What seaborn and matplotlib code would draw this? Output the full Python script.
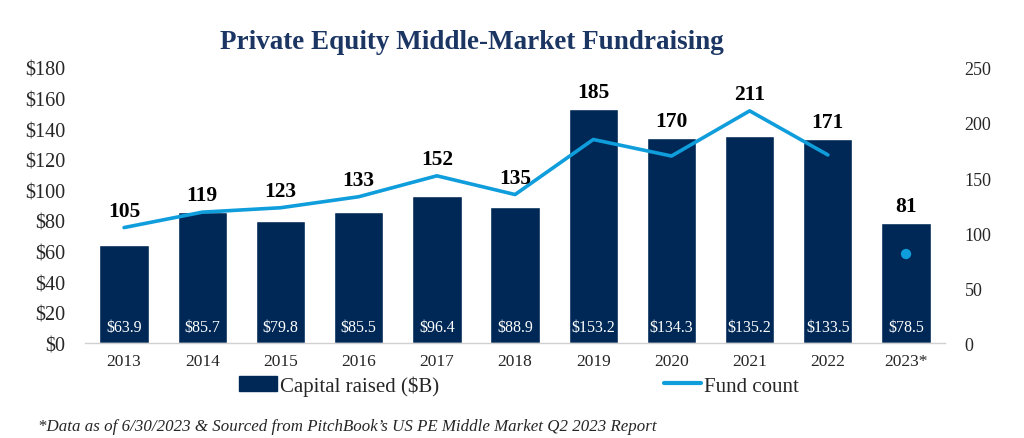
import numpy as np
import pandas as pd
import matplotlib
matplotlib.use("Agg")
import matplotlib.pyplot as plt
import seaborn as sns
from matplotlib.patches import Patch
from matplotlib.lines import Line2D

# the numbers, straight off the chart
years = ['2013', '2014', '2015', '2016', '2017', '2018', '2019', '2020', '2021', '2022', '2023*']
capital = [63.9, 85.7, 79.8, 85.5, 96.4, 88.9, 153.2, 134.3, 135.2, 133.5, 78.5]
fund_count = [105, 119, 123, 133, 152, 135, 185, 170, 211, 171, 81]
left_ticks = [0, 20, 40, 60, 80, 100, 120, 140, 160, 180]
right_ticks = [0, 50, 100, 150, 200, 250]

NAVY = '#002856'
BLUE = '#0f9ddb'
TITLE = '#1c3664'

sns.set_theme(style="white")
plt.rcParams['font.family'] = ['Liberation Serif', 'DejaVu Serif']

df = pd.DataFrame({'Year': years, 'Capital': capital, 'Count': fund_count})

fig = plt.figure(figsize=(10.24, 4.39), dpi=100)
ax = fig.add_axes([0.083, 0.216, 0.840, 0.627])

sns.barplot(data=df, x='Year', y='Capital', color=NAVY, width=0.63,
            saturation=1, ax=ax, zorder=2)
ax.set_ylim(0, 180)
ax.set_xlim(-0.5, len(years) - 0.5)
ax.set_yticks(left_ticks)
ax.set_yticklabels([f'${t}' for t in left_ticks], fontsize=14.5)
ax.set_xlabel('')
ax.set_ylabel('')
ax.tick_params(axis='x', labelsize=12.5, pad=7, length=0)
ax.tick_params(axis='y', pad=14, length=0)
for s in ['top', 'right', 'left']:
    ax.spines[s].set_visible(False)
ax.spines['bottom'].set_color('#d0d0d0')
ax.spines['bottom'].set_linewidth(1)

# dollar amounts inside the bars, near the base
for i, v in enumerate(capital):
    ax.annotate(f'${v}', xy=(i, 0), xytext=(0, 12), textcoords='offset points',
                ha='center', va='center', color='white', fontsize=11.5)

ax2 = ax.twinx()
pos = np.arange(len(years))
# line only runs through 2022, 2023 is a partial year shown as a dot
sns.lineplot(x=pos[:-1], y=fund_count[:-1], color=BLUE, linewidth=2.6, ax=ax2, zorder=3)
sns.scatterplot(x=pos[-1:], y=fund_count[-1:], color=BLUE, s=55, edgecolor='none', ax=ax2, zorder=3)
ax2.set_ylim(0, 250)
ax2.set_yticks(right_ticks)
ax2.set_yticklabels([str(t) for t in right_ticks], fontsize=13)
ax2.tick_params(axis='y', pad=14, length=0)
for s in ax2.spines.values():
    s.set_visible(False)
ax2.set_xlim(-0.5, len(years) - 0.5)

# fund count labels sit above whichever is higher: bar or line
scale = 250 / 180
for i, (c, v) in enumerate(zip(fund_count, capital)):
    top = max(c, v * scale)
    ax2.annotate(str(c), xy=(i, top), xytext=(0, 5), textcoords='offset points',
                 ha='center', va='bottom', fontsize=15.5, fontweight='bold', color='black')

fig.text(0.461, 0.903, 'Private Equity Middle-Market Fundraising', ha='center', va='center',
         fontsize=19.5, fontweight='bold', color=TITLE)

handles = [Patch(facecolor=NAVY, edgecolor=NAVY),
           Line2D([0], [0], color=BLUE, linewidth=3)]
fig.legend(handles, ['Capital raised ($B)', 'Fund count'], ncol=2, frameon=False,
           loc='center', bbox_to_anchor=(0.507, 0.12), fontsize=15,
           handlelength=1.8, handletextpad=0.15, columnspacing=10.8)

fig.text(0.037, 0.028, "*Data as of 6/30/2023 & Sourced from PitchBook\u2019s US PE Middle Market Q2 2023 Report",
         fontsize=12.2, style='italic', ha='left', va='center')

fig.savefig('out.png', dpi=100, facecolor='white')
